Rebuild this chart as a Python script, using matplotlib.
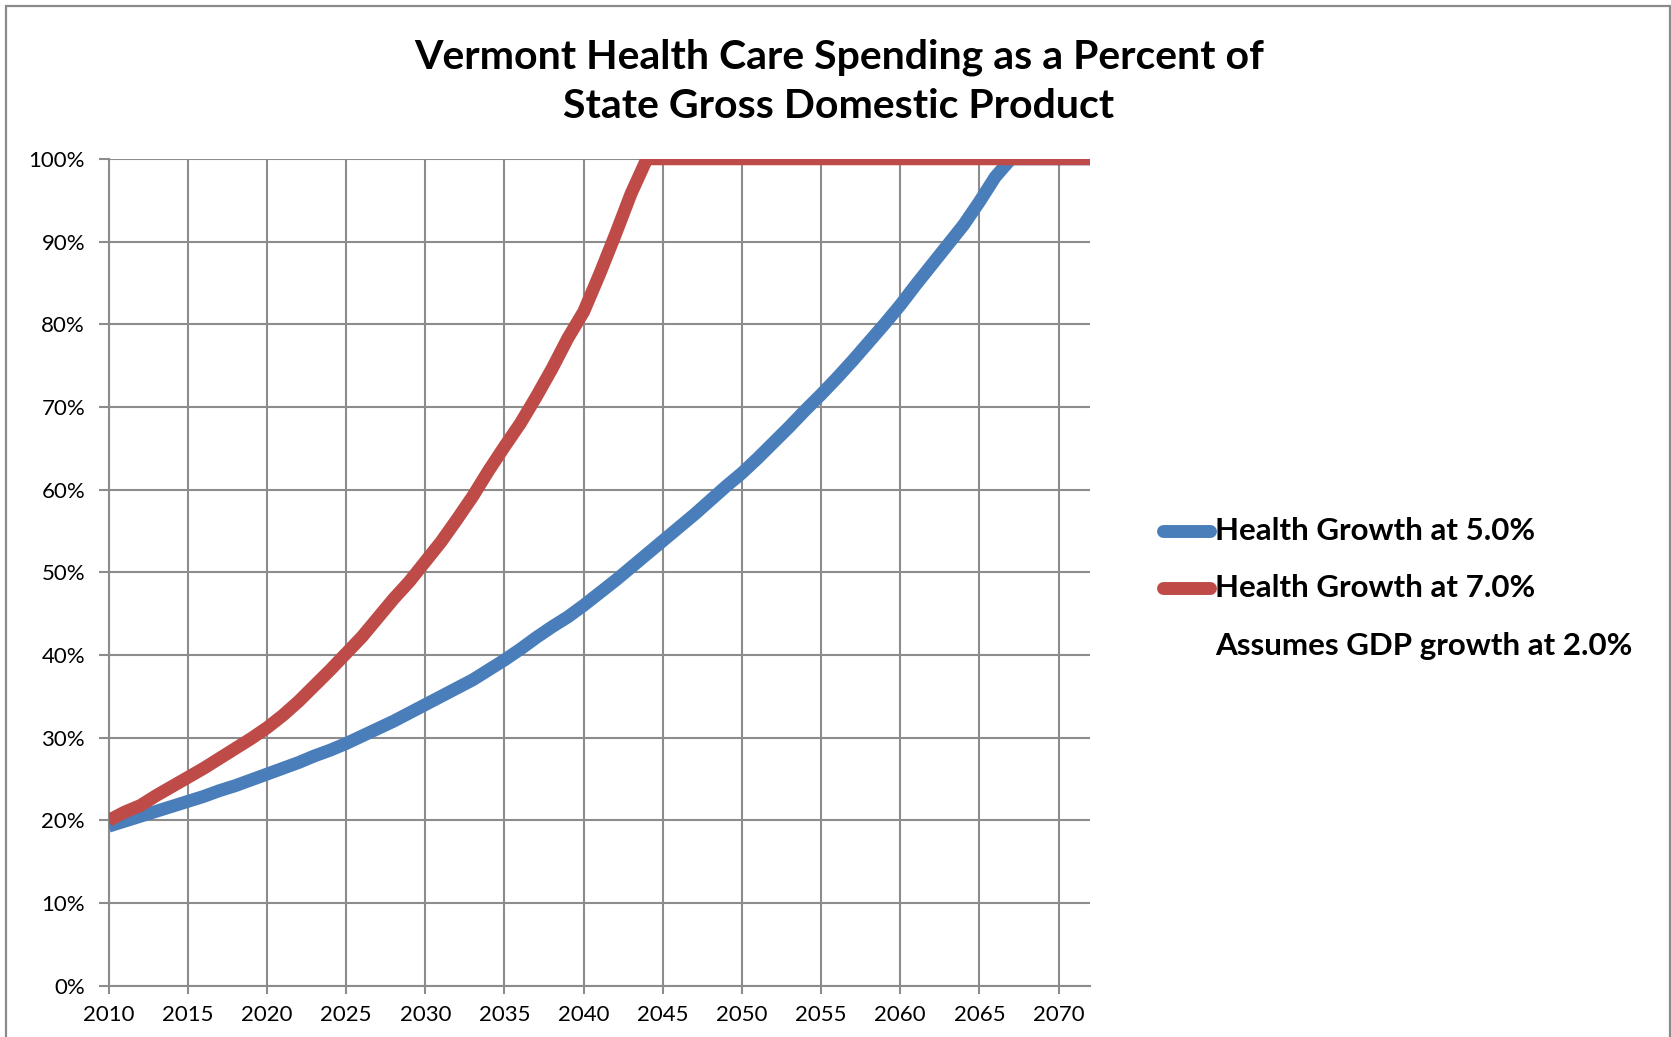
import matplotlib
matplotlib.use("Agg")
import matplotlib.pyplot as plt
from matplotlib.lines import Line2D
from matplotlib.patches import Rectangle
from matplotlib.ticker import FuncFormatter

plt.rcParams['font.family'] = ['Lato', 'DejaVu Sans']

years = list(range(2010, 2073))

growth_5 = [19.3, 19.9, 20.5, 21.1, 21.7, 22.3, 22.9, 23.6, 24.2, 24.9,
            25.6, 26.3, 27.0, 27.8, 28.5, 29.3, 30.2, 31.1, 32.0, 33.0,
            34.0, 35.0, 36.0, 37.0, 38.2, 39.4, 40.7, 42.1, 43.4, 44.6,
            46.0, 47.5, 49.0, 50.6, 52.2, 53.8, 55.4, 57.0, 58.7, 60.4,
            62.0, 63.8, 65.7, 67.6, 69.6, 71.5, 73.5, 75.6, 77.8, 80.0,
            82.3, 84.8, 87.2, 89.6, 92.0, 94.8, 97.8, 100, 100, 100,
            100, 100, 100]

growth_7 = [20.0, 21.0, 21.8, 23.0, 24.1, 25.2, 26.3, 27.5, 28.7, 29.9,
            31.2, 32.7, 34.4, 36.3, 38.2, 40.2, 42.2, 44.5, 46.8, 48.9,
            51.3, 53.7, 56.4, 59.2, 62.3, 65.2, 68.0, 71.2, 74.6, 78.3,
            81.5, 86.0, 90.8, 95.8, 100, 100, 100, 100, 100, 100,
            100, 100, 100, 100, 100, 100, 100, 100, 100, 100,
            100, 100, 100, 100, 100, 100, 100, 100, 100, 100,
            100, 100, 100]

series_labels = ["Health Growth at 5.0%", "Health Growth at 7.0%"]
note_label = "Assumes GDP growth at 2.0%"
title_lines = "Vermont Health Care Spending as a Percent of\nState Gross Domestic Product"
x_ticks = list(range(2010, 2071, 5))
y_ticks = list(range(0, 101, 10))

BLUE = "#4A7EBB"
RED = "#BE4B48"
GRID = "#8C8C8C"

W, H = 1671, 1037
fig = plt.figure(figsize=(W / 100, H / 100), dpi=100)
fig.patch.set_facecolor("white")

ax = fig.add_axes([108.7 / W, 1 - 985.8 / H, (1090.2 - 108.7) / W, (985.8 - 158.8) / H])
ax.set_xlim(2010, 2072)
ax.set_ylim(0, 100)

ax.plot(years, growth_5, color=BLUE, lw=9.3, solid_capstyle='butt', solid_joinstyle='miter', zorder=3)
ax.plot(years, growth_7, color=RED, lw=9.3, solid_capstyle='butt', solid_joinstyle='miter', zorder=4)

ax.set_xticks(x_ticks)
ax.set_yticks(y_ticks)
ax.yaxis.set_major_formatter(FuncFormatter(lambda v, p: f"{int(v)}%"))
ax.grid(True, color=GRID, lw=1.5)
ax.set_axisbelow(True)
for s in ["top", "right"]:
    ax.spines[s].set_visible(False)
for s in ["left", "bottom"]:
    ax.spines[s].set_color(GRID)
    ax.spines[s].set_linewidth(1.5)
ax.tick_params(axis='both', colors=GRID, width=1.5, labelcolor='black', labelsize=16)
ax.tick_params(axis='y', length=7, pad=10)
ax.tick_params(axis='x', length=6, pad=8)

fig.text(839 / W, 1 - 82 / H, title_lines, ha='center', va='center', fontsize=29.5,
         fontweight='bold', linespacing=1.4)

# legend
legend_rows = [(531, BLUE, series_labels[0]), (588, RED, series_labels[1]), (646, None, note_label)]
for ypx, col, lab in legend_rows:
    yf = 1 - ypx / H
    if col is not None:
        fig.add_artist(Line2D([1163 / W, 1210 / W], [yf, yf], transform=fig.transFigure,
                              color=col, lw=9.3, solid_capstyle='round'))
    fig.text(1215 / W, yf, lab, ha='left', va='center', fontsize=22.5, fontweight='bold')

fig.add_artist(Rectangle((6 / W, -0.2), (1669.5 - 6) / W, 1.2 - 6 / H, transform=fig.transFigure,
                         fill=False, ec="#8A8A8A", lw=1.6, clip_on=False))

fig.savefig("out.png", dpi=100, facecolor="white")
